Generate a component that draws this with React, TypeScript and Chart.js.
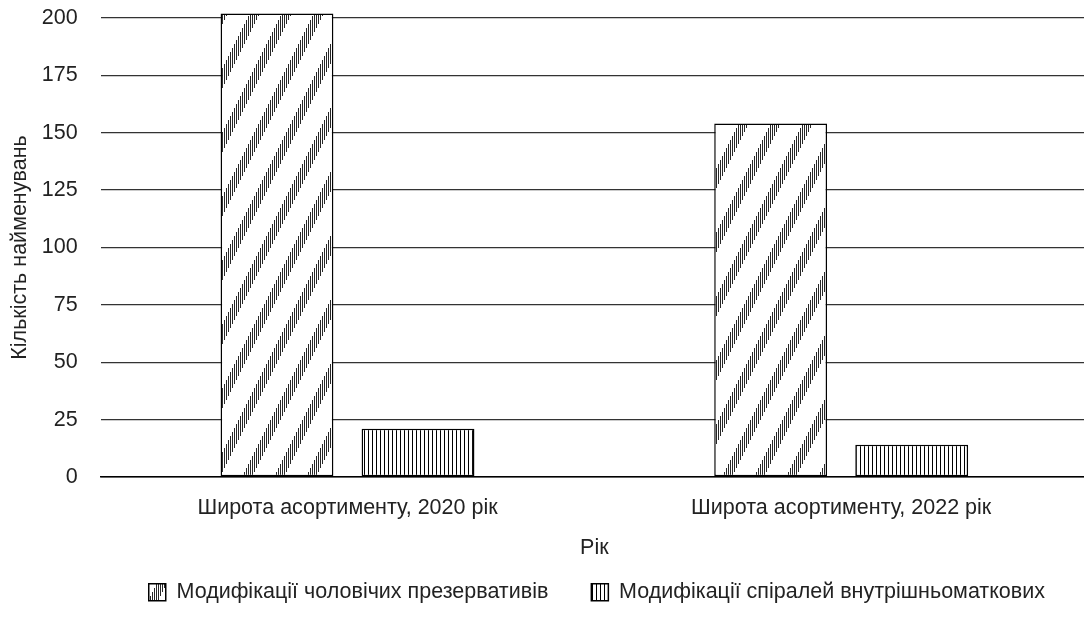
import React, { useEffect, useRef } from "react";
import { Chart, registerables } from "chart.js";

Chart.register(...registerables);

const categories = ["Широта асортименту, 2020 рік", "Широта асортименту, 2022 рік"];
const seriesNames = [
  "Модифікації чоловічих презервативів",
  "Модифікації спіралей внутрішньоматкових",
];
const condomValues = [202, 154];
const iudValues = [21, 14];
const yMin = 0;
const yMax = 200;
const yStep = 25;
const yTitle = "Кількість найменувань";
const xTitle = "Рік";

function makeDiagonalPattern(): CanvasPattern | string {
  const w = 32;
  const h = 64;
  const c = document.createElement("canvas");
  c.width = w;
  c.height = h;
  const ctx = c.getContext("2d");
  if (!ctx) return "#999";
  const img = ctx.createImageData(w, h);
  for (let y = 0; y < h; y++) {
    for (let x = 0; x < w; x++) {
      const i = (y * w + x) * 4;
      const p = (((x + Math.floor(y / 2)) % 32) + 32) % 32;
      let v = 255;
      if (p < 10 && x % 2 === 0) v = 40;
      img.data[i] = v;
      img.data[i + 1] = v;
      img.data[i + 2] = v;
      img.data[i + 3] = 255;
    }
  }
  ctx.putImageData(img, 0, 0);
  return ctx.createPattern(c, "repeat") || "#999";
}

function makeVerticalPattern(): CanvasPattern | string {
  const c = document.createElement("canvas");
  c.width = 4;
  c.height = 4;
  const ctx = c.getContext("2d");
  if (!ctx) return "#666";
  ctx.fillStyle = "#fff";
  ctx.fillRect(0, 0, 4, 4);
  ctx.fillStyle = "#000";
  ctx.fillRect(0, 0, 1, 4);
  return ctx.createPattern(c, "repeat") || "#666";
}

export default function App() {
  const ref = useRef<HTMLCanvasElement | null>(null);

  useEffect(() => {
    if (!ref.current) return;
    const font = { family: "'Liberation Sans', Arial, sans-serif", size: 21.5 };
    const color = "#222";
    const chart = new Chart(ref.current, {
      type: "bar",
      data: {
        labels: categories,
        datasets: [
          {
            label: seriesNames[0],
            data: condomValues,
            backgroundColor: makeDiagonalPattern() as any,
            borderColor: "#000",
            borderWidth: 1.5,
            borderSkipped: false,
            categoryPercentage: 0.5714,
            barPercentage: 0.8,
            clip: false as any,
          },
          {
            label: seriesNames[1],
            data: iudValues,
            backgroundColor: makeVerticalPattern() as any,
            borderColor: "#000",
            borderWidth: 1.5,
            borderSkipped: false,
            categoryPercentage: 0.5714,
            barPercentage: 0.8,
            clip: false as any,
          },
        ],
      },
      options: {
        responsive: false,
        animation: false,
        layout: { padding: { top: 18, right: 0, bottom: 19, left: 0 } },
        plugins: {
          legend: {
            position: "bottom",
            align: "end",
            labels: { boxWidth: 17, boxHeight: 17, padding: 43, color, font },
          },
          tooltip: { enabled: false },
        },
        scales: {
          x: {
            grid: { display: false, drawTicks: false },
            border: { display: true, color: "#000", width: 1.5 },
            ticks: { padding: 18, font, color },
            title: {
              display: true,
              text: xTitle,
              font,
              color,
              padding: { top: -3.7, bottom: -22.4 },
            },
          },
          y: {
            min: yMin,
            max: yMax,
            ticks: { stepSize: yStep, padding: 0, font, color },
            grid: {
              color: "#333",
              lineWidth: 1.3,
              drawTicks: true,
              tickLength: 23,
              tickColor: "rgba(0,0,0,0)",
            },
            border: { display: false },
            title: {
              display: true,
              text: yTitle,
              font,
              color,
              padding: { top: 7, bottom: 9 },
            },
          },
        },
      },
    });
    return () => chart.destroy();
  }, []);

  return (
    <div
      style={{
        position: "fixed",
        left: 0,
        top: 0,
        width: 1084,
        height: 632,
        overflow: "hidden",
        background: "#fff",
      }}
    >
      <canvas ref={ref} width={1088} height={632} style={{ display: "block" }} />
    </div>
  );
}
